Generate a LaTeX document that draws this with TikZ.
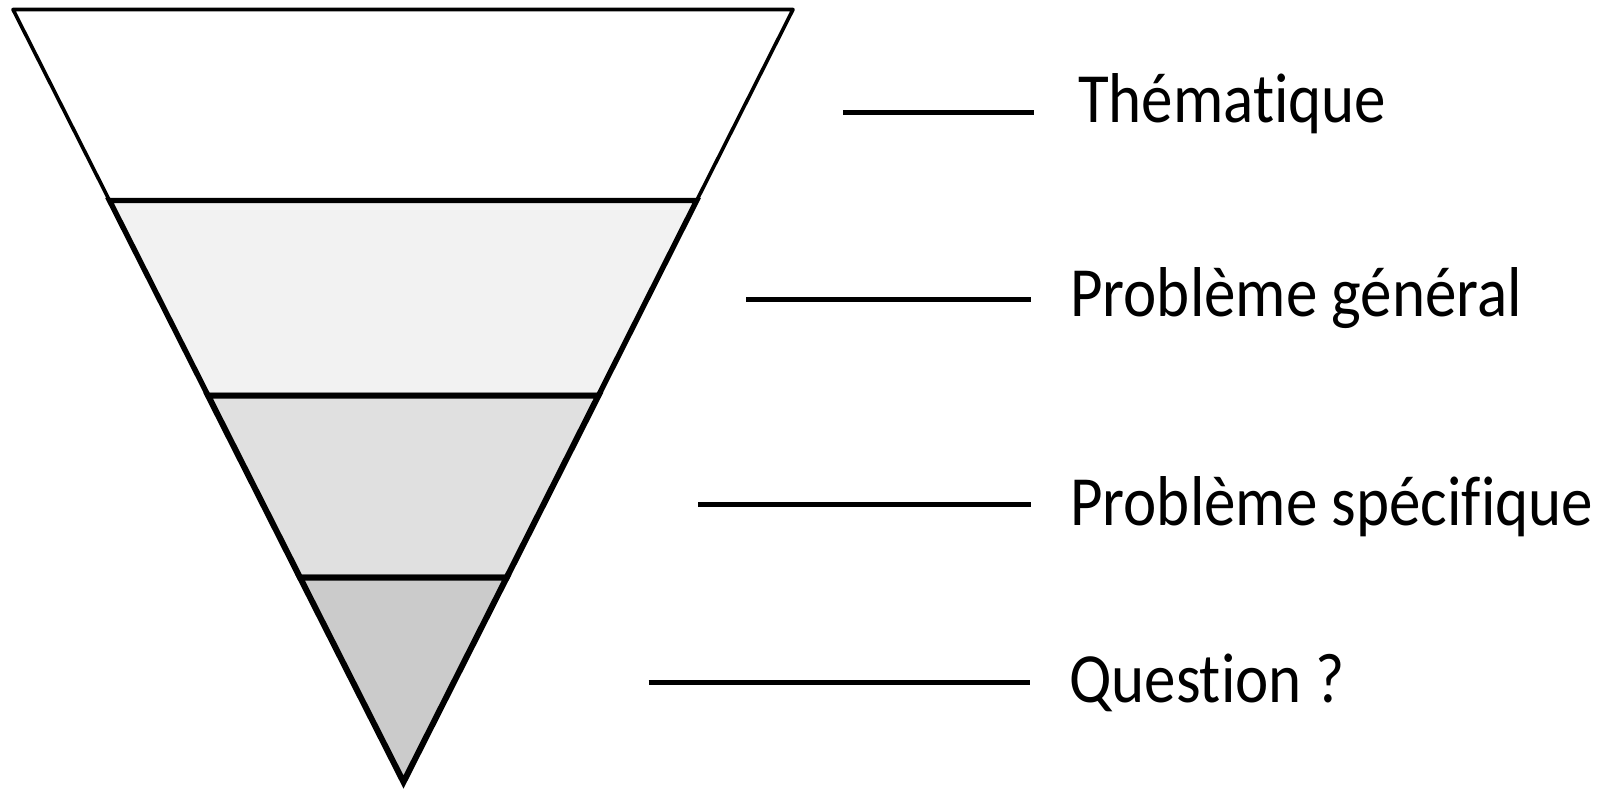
\documentclass[tikz,border=0pt]{standalone}
\usepackage{fontspec}
\setmainfont[Ligatures=NoCommon]{Carlito}
\definecolor{bandA}{HTML}{FFFFFF}
\definecolor{bandB}{HTML}{F2F2F2}
\definecolor{bandC}{HTML}{E0E0E0}
\definecolor{bandD}{HTML}{CBCBCB}
\begin{document}
\begin{tikzpicture}[x=1pt,y=-1pt,
  bandtop/.style={draw=black,line width=3.6pt,line join=round},
  bandlow/.style={draw=black,line width=6pt,line join=miter},
  tick/.style={draw=black,line width=5pt},
  lbl/.style={anchor=base west,inner sep=0pt,font=\fontsize{63}{70}\selectfont,yscale=1.12}]
\useasboundingbox (0,0) rectangle (1607,790);
% corner coordinates
\coordinate (tl) at (13,9.5);
\coordinate (tr) at (793,9.5);
\coordinate (l1) at (109.5,200.5);
\coordinate (r1) at (696.7,200.5);
\coordinate (l2) at (208,395.5);
\coordinate (r2) at (598.5,395.5);
\coordinate (l3) at (300,577.5);
\coordinate (r3) at (506.7,577.5);
\coordinate (ap) at (403.5,782);
% bands
\path[bandtop,fill=bandA] (tl) -- (tr) -- (r1) -- (l1) -- cycle;
\path[bandlow,fill=bandB,line width=5.4pt] (l1) -- (r1) -- (r2) -- (l2) -- cycle;
\path[bandlow,fill=bandC] (l2) -- (r2) -- (r3) -- (l3) -- cycle;
\path[bandlow,fill=bandD] (l3) -- (r3) -- (ap) -- cycle;
% horizontal dividers
\draw[line width=4.4pt] (l1) -- (r1);
\draw[line width=4.4pt] (l2) -- (r2);
\draw[line width=4.4pt] (l3) -- (r3);
% labels
\node[lbl] (t1) at (1078,122) {Thématique};
\node[lbl] (t2) at (1070,316.5) {Problème général};
\node[lbl] (t3) at (1070,525) {Problème spécifique};
\node[lbl] (t4) at (1069,702) {Question ?};
% tick lines
\coordinate (a1) at (843,112.3);  \coordinate (b1) at (1034,112.3);
\coordinate (a2) at (746,299.7);  \coordinate (b2) at (1031,299.7);
\coordinate (a3) at (698,504);    \coordinate (b3) at (1031,504);
\coordinate (a4) at (648.5,682.3);\coordinate (b4) at (1030,682.3);
\draw[tick] (a1) -- (b1);
\draw[tick] (a2) -- (b2);
\draw[tick] (a3) -- (b3);
\draw[tick] (a4) -- (b4);
\end{tikzpicture}
\end{document}
